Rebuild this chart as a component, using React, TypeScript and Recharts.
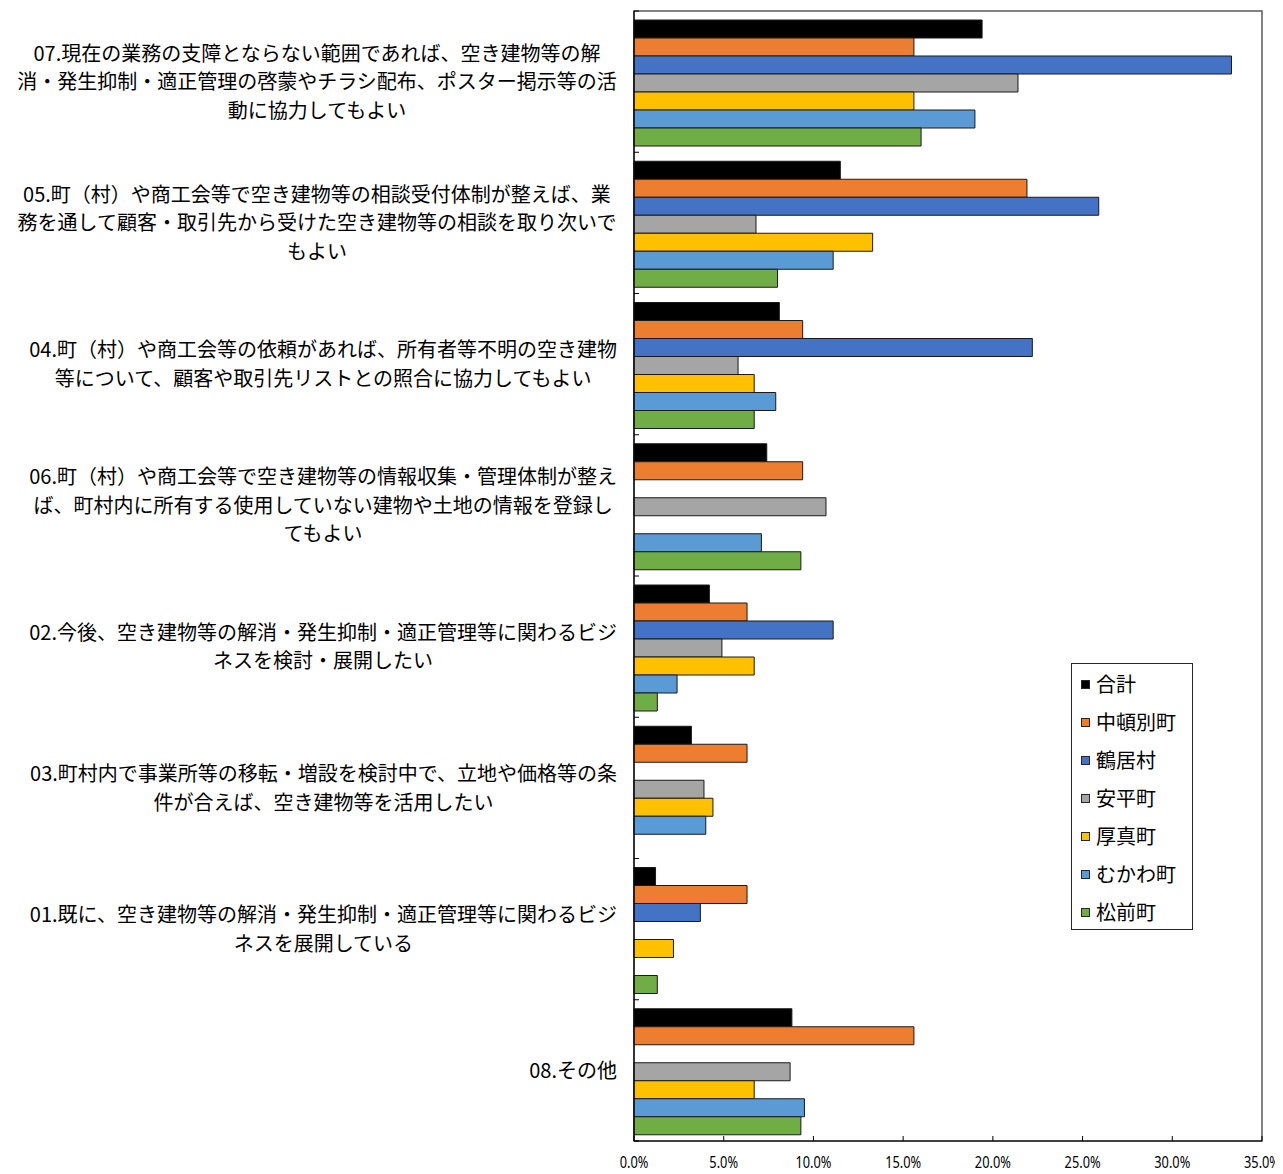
import React from 'react';
import { BarChart, Bar, XAxis, YAxis, Legend, ReferenceArea } from 'recharts';

// ---------- data ----------
const categories: string[] = [
  '07.現在の業務の支障とならない範囲であれば、空き建物等の解\n消・発生抑制・適正管理の啓蒙やチラシ配布、ポスター掲示等の活\n動に協力してもよい',
  '05.町（村）や商工会等で空き建物等の相談受付体制が整えば、業\n務を通して顧客・取引先から受けた空き建物等の相談を取り次いで\nもよい',
  '04.町（村）や商工会等の依頼があれば、所有者等不明の空き建物\n等について、顧客や取引先リストとの照合に協力してもよい',
  '06.町（村）や商工会等で空き建物等の情報収集・管理体制が整え\nば、町村内に所有する使用していない建物や土地の情報を登録し\nてもよい',
  '02.今後、空き建物等の解消・発生抑制・適正管理等に関わるビジ\nネスを検討・展開したい',
  '03.町村内で事業所等の移転・増設を検討中で、立地や価格等の条\n件が合えば、空き建物等を活用したい',
  '01.既に、空き建物等の解消・発生抑制・適正管理等に関わるビジ\nネスを展開している',
  '08.その他',
];

const seriesNames: string[] = ['合計', '中頓別町', '鶴居村', '安平町', '厚真町', 'むかわ町', '松前町'];
const seriesColors: string[] = ['#000000', '#ED7D31', '#4472C4', '#A5A5A5', '#FFC000', '#5B9BD5', '#70AD47'];

const total: number[] = [19.4, 11.5, 8.1, 7.4, 4.2, 3.2, 1.2, 8.8];
const nakatonbetsu: number[] = [15.6, 21.9, 9.4, 9.4, 6.3, 6.3, 6.3, 15.6];
const tsurui: number[] = [33.3, 25.9, 22.2, 0, 11.1, 0, 3.7, 0];
const abira: number[] = [21.4, 6.8, 5.8, 10.7, 4.9, 3.9, 0, 8.7];
const atsuma: number[] = [15.6, 13.3, 6.7, 0, 6.7, 4.4, 2.2, 6.7];
const mukawa: number[] = [19.0, 11.1, 7.9, 7.1, 2.4, 4.0, 0, 9.5];
const matsumae: number[] = [16.0, 8.0, 6.7, 9.3, 1.3, 0, 1.3, 9.3];

const xTicks: number[] = [0, 5, 10, 15, 20, 25, 30, 35];

const seriesValues: number[][] = [total, nakatonbetsu, tsurui, abira, atsuma, mukawa, matsumae];

const data = categories.map((label, i) => {
  const row: Record<string, string | number> = { label };
  seriesNames.forEach((name, s) => {
    row[name] = seriesValues[s][i];
  });
  return row;
});

// ---------- layout ----------
const CHART_W = 1275;
const CHART_H = 1166;
const MARGIN = { top: 3, right: 21, bottom: 0, left: 0 };
const Y_W = 626;
const X_H = 33;
const PLOT_H = CHART_H - MARGIN.top - MARGIN.bottom - X_H;
const BAND = PLOT_H / categories.length;
const LABEL_SIZE = 20;
const LINE_H = 28.5;
const JP_FONT = "'Noto Sans CJK JP', 'Noto Sans', sans-serif";
const NUM_FONT = "'Noto Sans', 'DejaVu Sans', sans-serif";

let ctx: CanvasRenderingContext2D | null = null;
const measure = (t: string, font: string): number => {
  if (!ctx) {
    const c = document.createElement('canvas');
    ctx = c.getContext('2d');
  }
  if (!ctx) return t.length * LABEL_SIZE;
  ctx.font = font;
  return ctx.measureText(t).width;
};

const YTick = (props: any) => {
  const { x, y, payload, index } = props;
  const lines = String(payload.value).split('\n');
  const font = `${LABEL_SIZE}px 'Noto Sans CJK JP'`;
  const w = Math.max(...lines.map((l) => measure(l, font)));
  const cx = x - 17 - w / 2;
  const n = lines.length;
  return (
    <g>
      {index === 0 && (
        <line x1={x} x2={x + 5} y1={y - BAND / 2} y2={y - BAND / 2} stroke="#000" strokeWidth={1} />
      )}
      <line x1={x} x2={x + 5} y1={y + BAND / 2} y2={y + BAND / 2} stroke="#000" strokeWidth={1} />
      <text textAnchor="middle" fontSize={LABEL_SIZE} fontFamily={JP_FONT} fill="#000">
        {lines.map((l, i) => (
          <tspan key={i} x={cx} y={y + (i - (n - 1) / 2) * LINE_H} dy="0.37em">
            {l}
          </tspan>
        ))}
      </text>
    </g>
  );
};

const XTick = (props: any) => {
  const { x, y, payload } = props;
  return (
    <g>
      <line x1={x} x2={x} y1={y} y2={y - 5} stroke="#000" strokeWidth={1} />
      <text
        transform={`translate(${x},${y + 21}) scale(0.8,1)`}
        x={0}
        y={0}
        dy="0.36em"
        textAnchor="middle"
        fontSize={16}
        fontFamily={NUM_FONT}
        fill="#000"
      >
        {`${Number(payload.value).toFixed(1)}%`}
      </text>
    </g>
  );
};

const LegendBox = () => (
  <div
    style={{
      boxSizing: 'border-box',
      width: 122,
      height: 267,
      border: '1.5px solid #262626',
      background: '#fff',
      paddingTop: 1,
    }}
  >
    {seriesNames.map((name, s) => (
      <div key={name} style={{ height: 38, display: 'flex', alignItems: 'center', paddingLeft: 9 }}>
        <span
          style={{
            display: 'inline-block',
            width: 9,
            height: 9,
            boxSizing: 'border-box',
            background: seriesColors[s],
            border: '1px solid #262626',
            marginRight: 6,
            flex: 'none',
          }}
        />
        <span style={{ fontSize: 20, fontFamily: JP_FONT, color: '#000', lineHeight: '38px', whiteSpace: 'nowrap' }}>
          {name}
        </span>
      </div>
    ))}
  </div>
);

export default function App() {
  return (
    <>
      <style>{'html, body { overflow: hidden; }'}</style>
      <div
        style={{
          marginTop: -8,
          marginLeft: -1,
          paddingTop: 8,
          borderLeft: '1px solid #d9d9d9',
          width: CHART_W,
          height: CHART_H,
          background: '#fff',
        }}
      >
        <BarChart
          width={CHART_W}
          height={CHART_H}
          data={data}
          layout="vertical"
          margin={MARGIN}
          barCategoryGap={9}
          barGap={0}
        >
          <ReferenceArea
            x1={0}
            x2={35}
            fill="none"
            fillOpacity={0}
            stroke="#595959"
            strokeWidth={1.5}
            ifOverflow="visible"
          />
          <XAxis
            type="number"
            domain={[0, 35]}
            ticks={xTicks}
            interval={0}
            height={X_H}
            tick={<XTick />}
            tickLine={false}
            tickSize={0}
            tickMargin={0}
            axisLine={{ stroke: '#000', strokeWidth: 1.2 }}
          />
          <YAxis
            type="category"
            dataKey="label"
            width={Y_W}
            interval={0}
            tick={<YTick />}
            tickLine={false}
            tickSize={0}
            tickMargin={0}
            axisLine={{ stroke: '#000', strokeWidth: 1.2 }}
          />
          <Legend
            layout="vertical"
            align="center"
            verticalAlign="middle"
            wrapperStyle={{ left: 1063, top: 655, width: 122, height: 267 }}
            content={<LegendBox />}
          />
          {seriesNames.map((name, s) => (
            <Bar
              key={name}
              dataKey={name}
              name={name}
              fill={seriesColors[s]}
              stroke="#1a1a1a"
              strokeWidth={1}
              isAnimationActive={false}
            />
          ))}
        </BarChart>
      </div>
    </>
  );
}
